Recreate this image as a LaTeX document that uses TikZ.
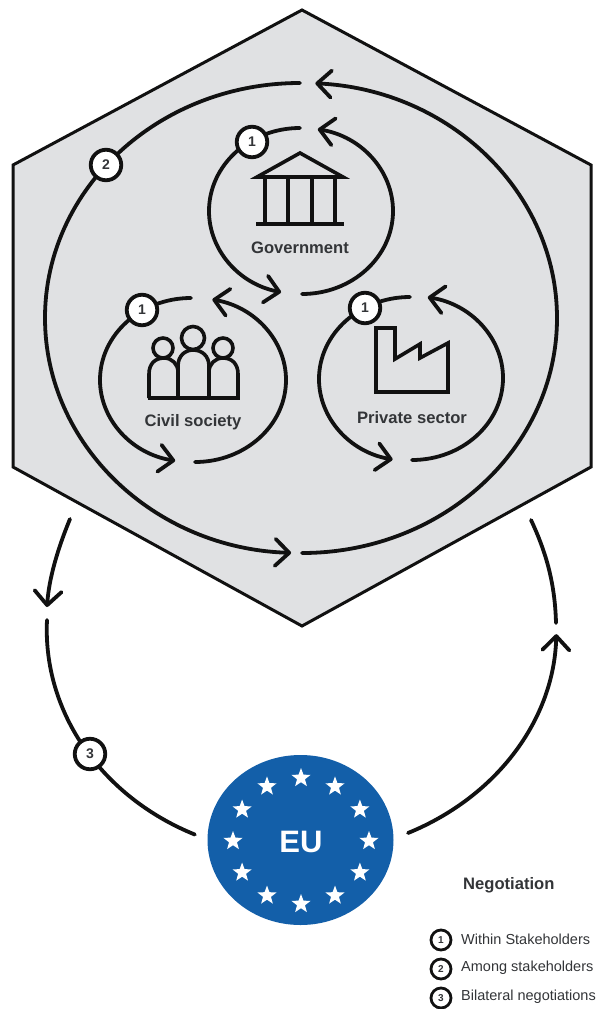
\documentclass[tikz,border=0pt]{standalone}
\usepackage{fontspec}
\setmainfont{Liberation Sans}
\usetikzlibrary{arrows.meta,shapes.geometric}
\definecolor{hexgrey}{HTML}{E0E1E3}
\definecolor{eublue}{HTML}{135FA9}
\definecolor{inkc}{HTML}{111111}
\definecolor{labelc}{HTML}{333538}
\tikzset{
  hexa/.style={draw=inkc,line width=3pt,fill=hexgrey,line join=miter},
  flow/.style={draw=inkc,line width=3.8pt,line cap=round},
  flowarrow/.style={flow,-{Straight Barb[length=14pt,width=27pt,line width=3.8pt,round]}},
  icon/.style={draw=inkc,line width=3.6pt,line join=miter},
  badge/.style={circle,draw=inkc,line width=3.8pt,fill=white,minimum size=30.5pt,inner sep=0pt,font=\bfseries\fontsize{14}{14}\selectfont,text=labelc},
  keybadge/.style={circle,draw=inkc,line width=2.8pt,fill=white,minimum size=20pt,inner sep=0pt,font=\bfseries\fontsize{10}{10}\selectfont,text=labelc},
  actor/.style={font=\bfseries\fontsize{16.6}{17}\selectfont,text=labelc},
  keytext/.style={anchor=west,inner sep=0pt,font=\fontsize{14.5}{15}\selectfont,text=labelc},
  eustar/.style={star,star points=5,star point ratio=2.4,fill=white,inner sep=0pt,minimum size=20pt},
}
\begin{document}
\begin{tikzpicture}[x=1pt,y=-1pt]
\useasboundingbox[fill=white] (0,0) rectangle (600,1009);
% hexagon
\draw[hexa] (302,10) -- (591,165) -- (591,467) -- (302,626) -- (13,467) -- (13,165) -- cycle;
% named ends
\coordinate (bigB) at (302,553);
\coordinate (bigT) at (300,83);
\coordinate (govT) at (300,128);
\coordinate (govB) at (302,294);
\coordinate (civT) at (191,298);
\coordinate (civB) at (195,462);
\coordinate (priT) at (410,297);
\coordinate (priB) at (412,460);
\coordinate (outLA) at (70,519);
\coordinate (outLB) at (47,607);
\coordinate (outLC) at (47,620);
\coordinate (outRA) at (531,520);
\coordinate (outRB) at (556,623);
% big loop
\draw[flowarrow] (bigB) arc[start angle=90,end angle=-87,x radius=255,y radius=235];
\draw[flowarrow] (bigT) arc[start angle=-90,end angle=-268,x radius=255,y radius=235];
% government loop
\draw[flowarrow] (govT) arc[start angle=-90,end angle=-258,x radius=91,y radius=83];
\draw[flowarrow] (govB) arc[start angle=90,end angle=-80,x radius=91,y radius=83];
% civil loop
\draw[flowarrow] (civT) arc[start angle=-90,end angle=-260,x radius=91,y radius=82];
\draw[flowarrow] (civB) arc[start angle=90,end angle=-79,x radius=91,y radius=82];
% private loop
\draw[flowarrow] (priT) arc[start angle=-90,end angle=-259,x radius=91,y radius=82];
\draw[flowarrow] (priB) arc[start angle=90,end angle=-80,x radius=91,y radius=82];
% EU
\node[ellipse,fill=eublue,minimum width=186pt,minimum height=170pt,inner sep=0pt] (eu) at (300.5,840) {};
\node[font=\bfseries\fontsize{31}{31}\selectfont,text=white] (eutext) at (301,842) {EU};
\foreach \i in {0,30,...,330}{
  \node[eustar] (star\i) at ({301+68*cos(\i)},{841+63*sin(\i)}) {};
}
% outer connectors
\coordinate (euL) at (195,834);
\coordinate (euR) at (408,833);
\draw[flow] (outLC) arc[start angle=182.5,end angle=114.5,x radius=253,y radius=225];
\draw[flowarrow] (outLA) .. controls (58,548) and (49,578) .. (outLB);
\draw[flowarrow] (euR) arc[start angle=65,end angle=1.3,x radius=257,y radius=225];
\draw[flow] (outRB) .. controls (555,583) and (546,552) .. (outRA);
% badges
\node[badge] (g1) at (252,142) {1};
\node[badge] (c1) at (142,310) {1};
\node[badge] (p1) at (365,308) {1};
\node[badge] (n2) at (106,165) {2};
\node[badge] (n3) at (90,754) {3};
% government icon
\draw[icon] (257,177) -- (300,153) -- (343,177) -- cycle;
\draw[icon] (265,177) -- (265,224) (288,177) -- (288,224) (312,177) -- (312,224) (335,177) -- (335,224);
\draw[icon] (256,224) -- (344,224);
\node[actor] (govlabel) at (300,248) {Government};
% civil icon
\draw[icon] (193,338) circle[radius=11.5];
\draw[icon] (163,348) circle[radius=10];
\draw[icon] (223,348) circle[radius=10];
\draw[icon,line join=round] (149,398) -- (149,374) .. controls (149,364) and (155,358) .. (164,358) .. controls (172,358) and (178,364) .. (178,372) -- (178,398);
\draw[icon,line join=round] (178,398) -- (178,366) .. controls (178,356) and (185,350) .. (193,350) .. controls (202,350) and (209,356) .. (209,366) -- (209,398);
\draw[icon,line join=round] (209,398) -- (209,372) .. controls (209,364) and (215,358) .. (223,358) .. controls (232,358) and (238,364) .. (238,374) -- (238,398);
\draw[icon] (147.5,398) -- (239.5,398);
\node[actor] (civlabel) at (193,422) {Civil society};
% factory icon
\draw[icon] (376,328) -- (395,328) -- (395,359) -- (420,344) -- (420,358) -- (448,343) -- (448,392) -- (376,392) -- cycle;
\node[actor] (prilabel) at (412,418) {Private sector};
% legend
\node[anchor=west,inner sep=0pt,font=\bfseries\fontsize{16.6}{17}\selectfont,text=labelc] (legendtitle) at (463,885) {Negotiation};
\node[keybadge] (k1) at (441,940) {1};
\node[keybadge] (k2) at (441,969) {2};
\node[keybadge] (k3) at (441,998) {3};
\node[keytext] (t1) at (461,939) {Within Stakeholders};
\node[keytext] (t2) at (461,968) {Among stakeholders};
\node[keytext] (t3) at (461,997) {Bilateral negotiations};
\end{tikzpicture}
\end{document}
